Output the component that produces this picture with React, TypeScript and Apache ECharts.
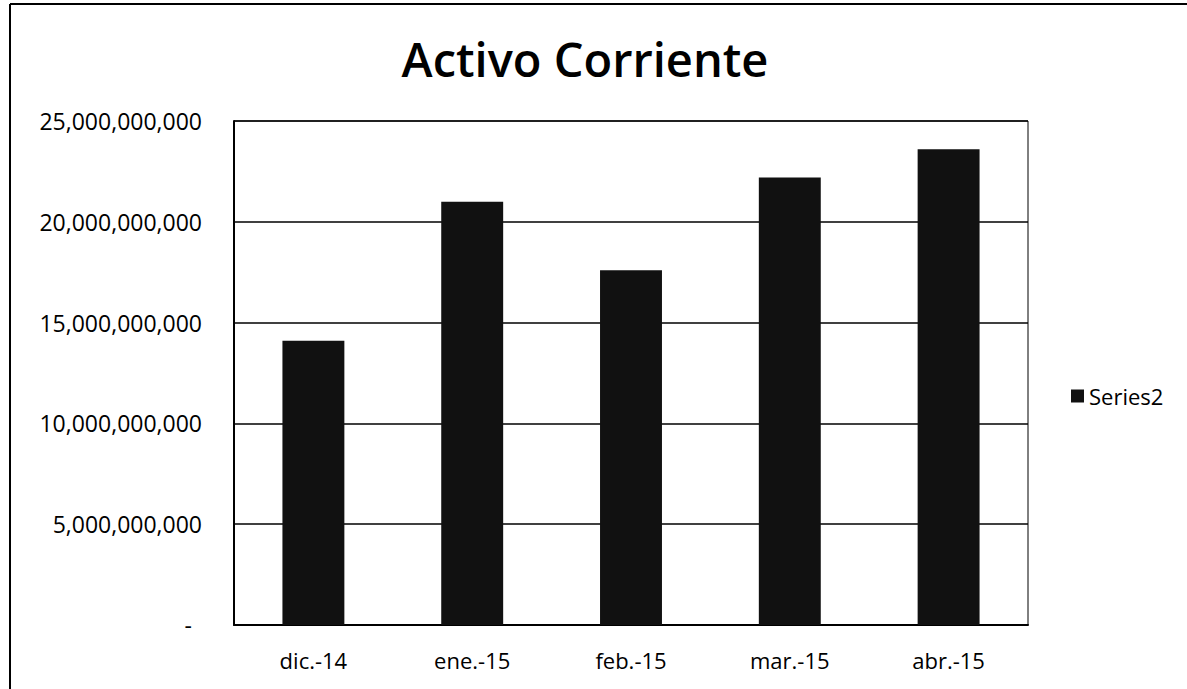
import React, { useEffect, useRef } from "react";
import * as echarts from "echarts";

const categories = ["dic.-14", "ene.-15", "feb.-15", "mar.-15", "abr.-15"];
const series2Values = [14100000000, 21000000000, 17600000000, 22200000000, 23600000000];
const yTicks = { min: 0, max: 25000000000, interval: 5000000000 };
const titleText = "Activo Corriente";
const seriesName = "Series2";

const FONT = "'Open Sans', 'Noto Sans', sans-serif";

function fmt(v: number): string {
  if (v === 0) return "{z|-}";
  return v.toLocaleString("en-US");
}

export default function App() {
  const ref = useRef<HTMLDivElement>(null);
  useEffect(() => {
    document.body.style.margin = "0";
    const chart = echarts.init(ref.current!, null, { renderer: "svg" });
    chart.setOption({
      animation: false,
      backgroundColor: "#fff",
      title: {
        text: titleText,
        left: 580,
        top: 30,
        textAlign: "center",
        textStyle: { fontFamily: FONT, fontSize: 47, fontWeight: 600, color: "#000" },
      },
      legend: {
        data: [seriesName],
        orient: "vertical",
        left: 1066,
        top: 380,
        itemWidth: 13,
        itemHeight: 13,
        icon: "rect",
        itemGap: 6,
        textStyle: { fontFamily: FONT, fontSize: 22, color: "#000" },
      },
      grid: {
        left: 234,
        right: 159,
        top: 121,
        bottom: 64,
        show: true,
        borderColor: "#000",
        borderWidth: 1,
      },
      xAxis: {
        type: "category",
        data: categories,
        axisLine: { show: true, lineStyle: { color: "#000", width: 2 } },
        axisTick: { show: false },
        axisLabel: { fontFamily: FONT, fontSize: 22, color: "#000", margin: 24 },
      },
      yAxis: {
        type: "value",
        min: yTicks.min,
        max: yTicks.max,
        interval: yTicks.interval,
        axisLine: { show: true, lineStyle: { color: "#000", width: 2 } },
        axisTick: { show: false },
        splitLine: { show: true, lineStyle: { color: "#000", width: 1.5 } },
        axisLabel: {
          fontFamily: FONT,
          fontSize: 23,
          color: "#000",
          margin: 32,
          formatter: fmt,
          rich: { z: { fontFamily: FONT, fontSize: 23, color: "#000", padding: [0, 10, 0, 0] } },
        },
      },
      series: [
        {
          name: seriesName,
          type: "bar",
          data: series2Values,
          barWidth: "39%",
          itemStyle: { color: "#111" },
        },
      ],
      graphic: [
        { type: "line", shape: { x1: 10, y1: 4, x2: 1187, y2: 4 }, style: { stroke: "#000", lineWidth: 2 } },
        { type: "line", shape: { x1: 10, y1: 4, x2: 10, y2: 689 }, style: { stroke: "#000", lineWidth: 2 } },
      ],
    });
    return () => chart.dispose();
  }, []);
  return <div ref={ref} style={{ position: "absolute", left: 0, top: 0, width: 1187, height: 689 }} />;
}
